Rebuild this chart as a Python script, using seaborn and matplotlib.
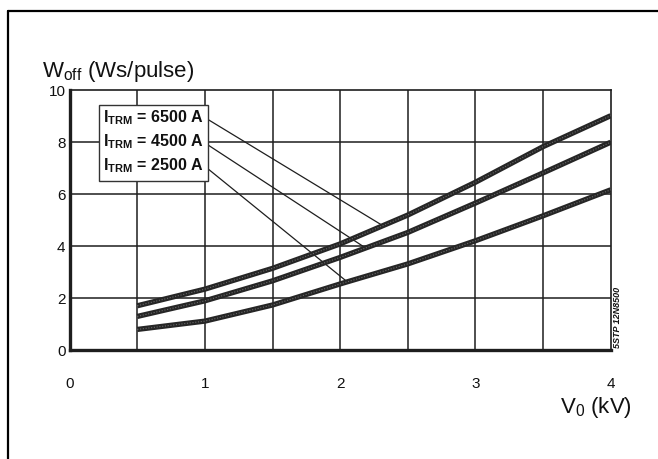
import numpy as np
import pandas as pd
import matplotlib
matplotlib.use("Agg")
import matplotlib.pyplot as plt
from matplotlib.lines import Line2D
from matplotlib.patches import Rectangle
import seaborn as sns

# Turn-off energy per pulse vs. voltage for three turn-off currents
v0_kv = [0.5, 1.0, 1.5, 2.0, 2.5, 3.0, 3.5, 4.0]
w_6500 = [1.69, 2.33, 3.13, 4.07, 5.18, 6.44, 7.81, 9.00]
w_4500 = [1.28, 1.88, 2.65, 3.55, 4.51, 5.64, 6.80, 7.98]
w_2500 = [0.78, 1.10, 1.72, 2.53, 3.30, 4.19, 5.15, 6.15]
currents = ["6500", "4500", "2500"]

x_ticks = [0, 1, 2, 3, 4]
y_ticks = [0, 2, 4, 6, 8, 10]

df = pd.DataFrame({
    "V0": v0_kv * 3,
    "Woff": w_6500 + w_4500 + w_2500,
    "I_TRM": [c for c in currents for _ in v0_kv],
})

sns.set_theme(style="white")
plt.rcParams["font.family"] = ["Liberation Sans", "DejaVu Sans"]
plt.rcParams["mathtext.fontset"] = "custom"
plt.rcParams["mathtext.rm"] = "Liberation Sans"
plt.rcParams["mathtext.bf"] = "Liberation Sans:bold"
plt.rcParams["mathtext.it"] = "Liberation Sans:italic"

ink = "#1e1e1e"
fig = plt.figure(figsize=(6.58, 4.60), dpi=100)
ax = fig.add_axes([0.1059, 0.2376, 0.8222, 0.5652])

# grid: every 0.5 kV vertically, every 2 Ws horizontally
for xv in np.arange(0.5, 4.0, 0.5):
    ax.axvline(xv, color=ink, lw=1.1, zorder=1)
for yv in y_ticks[1:-1]:
    ax.axhline(yv, color=ink, lw=1.1, zorder=1)

sns.lineplot(data=df, x="V0", y="Woff", hue="I_TRM",
             palette={c: "#262626" for c in currents},
             linewidth=3.8, legend=False, ax=ax, zorder=3,
             solid_capstyle="butt")
# light speckle along the thick curves
for ys in (w_6500, w_4500, w_2500):
    ax.plot(v0_kv, ys, color="#6a6a6a", lw=0.8, ls=(0, (1, 1.5)), zorder=4)

ax.set_xlim(0, 4)
ax.set_ylim(0, 10)
ax.set_xticks(x_ticks)
ax.set_yticks(y_ticks)
ax.set_xticklabels([str(t) for t in x_ticks])
ax.set_yticklabels([str(t) for t in y_ticks])
ax.tick_params(axis="x", length=0, pad=19, labelsize=11, colors="#111111")
ax.tick_params(axis="y", length=0, pad=3, labelsize=11, colors="#111111")
ax.set_xlabel("")
ax.set_ylabel("")

for side in ("left", "bottom"):
    ax.spines[side].set_linewidth(2.4)
    ax.spines[side].set_color(ink)
for side in ("top", "right"):
    ax.spines[side].set_linewidth(1.2)
    ax.spines[side].set_color(ink)

# label box with leader lines to each curve
ax.add_patch(Rectangle((0.219, 6.50), 0.805, 2.91, facecolor="white",
                       edgecolor="#333333", lw=1.0, zorder=5))
label_y = [8.96, 8.03, 7.10]
leader_start = [8.85, 7.87, 6.95]
leader_end = [(2.306, 4.80), (2.18, 3.94), (2.05, 2.62)]
for cur, ly, sy, end in zip(currents, label_y, leader_start, leader_end):
    ax.text(0.245, ly, r"$\mathbf{I}_{\mathbf{TRM}}$" + f" = {cur} A",
            fontsize=11.5, fontweight="bold", va="center", ha="left",
            color="#111111", zorder=6)
    ax.annotate("", xy=end, xytext=(1.024, sy),
                arrowprops=dict(arrowstyle="-", color=ink, lw=0.9,
                                shrinkA=0, shrinkB=0), zorder=2)

fig.text(42 / 658, 1 - 77 / 460, r"W$_{\mathrm{off}}$ (Ws/pulse)",
         fontsize=16, ha="left", va="baseline", color="#111111")
fig.text(560 / 658, 1 - 413 / 460, r"V$_{0}$ (kV)",
         fontsize=16, ha="left", va="baseline", color="#111111")
fig.text(617 / 658, 1 - 348 / 460, "5STP 12N8500", rotation=90,
         fontsize=6.5, fontweight="bold", fontstyle="italic",
         ha="center", va="bottom", color="#111111")

# outer frame (top and left edges)
fig.add_artist(Line2D([8 / 658, 1.0], [1 - 12 / 460, 1 - 12 / 460],
                      transform=fig.transFigure, color="black", lw=1.6))
fig.add_artist(Line2D([8 / 658, 8 / 658], [0.0, 1 - 12 / 460],
                      transform=fig.transFigure, color="black", lw=1.6))

fig.savefig("out.png", dpi=100, facecolor="white")
